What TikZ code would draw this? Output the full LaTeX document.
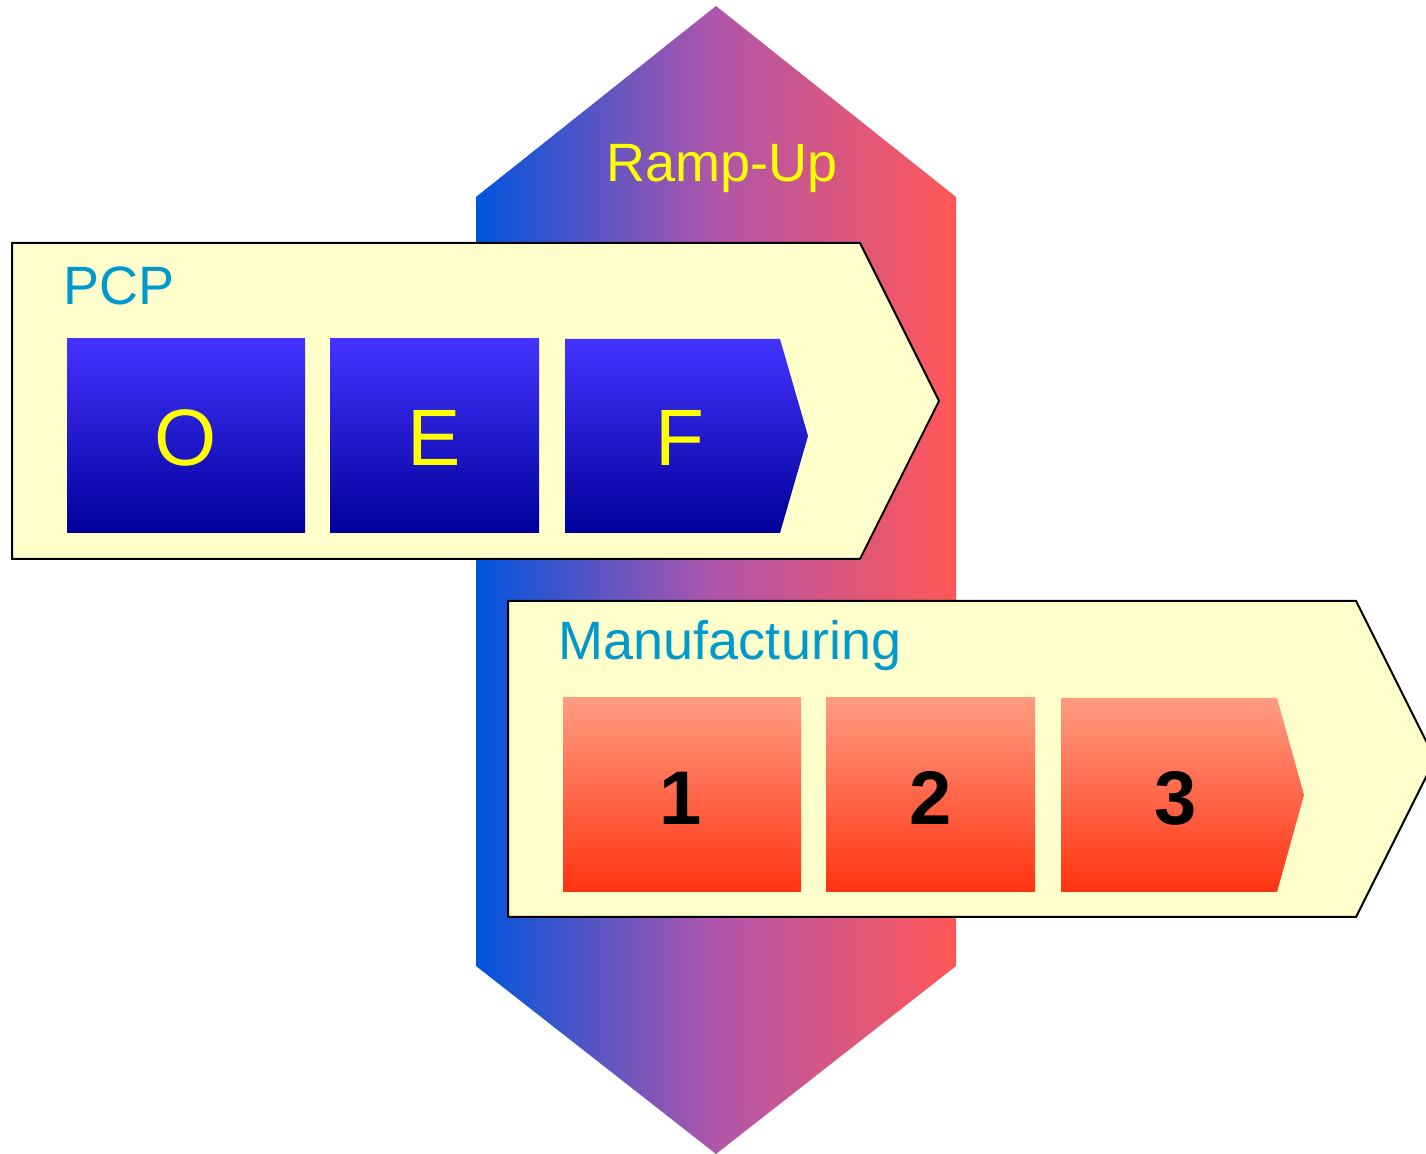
\documentclass[tikz,border=0pt]{standalone}
\usepackage{fontspec}
\setmainfont{Liberation Sans}
\definecolor{hexL}{RGB}{0,85,221}
\definecolor{hexM}{RGB}{176,86,170}
\definecolor{hexR}{RGB}{255,87,87}
\definecolor{chev}{RGB}{255,255,204}
\definecolor{blueT}{RGB}{68,51,255}
\definecolor{blueB}{RGB}{0,0,153}
\definecolor{redT}{RGB}{255,156,130}
\definecolor{redB}{RGB}{255,51,17}
\definecolor{lbl}{RGB}{0,153,204}
\definecolor{yel}{RGB}{255,255,0}
\tikzset{
  chevron/.style={fill=chev,draw=black,line width=1pt,line join=miter},
  bluebox/.style={top color=blueT,bottom color=blueB},
  redbox/.style={top color=redT,bottom color=redB},
  title/.style={anchor=base,inner sep=0pt,text=lbl,font=\fontsize{27}{32}\selectfont},
  ramp/.style={anchor=base,inner sep=0pt,text=yel,font=\fontsize{27}{32}\selectfont},
  bluetext/.style={anchor=base,inner sep=0pt,text=yel,font=\fontsize{40}{46}\selectfont},
  redtext/.style={anchor=base,inner sep=0pt,text=black,font=\bfseries\fontsize{38}{44}\selectfont}
}
\begin{document}
\begin{tikzpicture}[x=0.5pt,y=-0.5pt]
\useasboundingbox (0,0) rectangle (1426,1154);
% ramp-up hexagon
\shade[left color=hexL,right color=hexR,middle color=hexM]
  (716,6) -- (956,197) -- (956,966) -- (716,1154) -- (476,966) -- (476,197) -- cycle;
\node[ramp] (ramp) at (722,182) {Ramp-Up};
% PCP chevron
\draw[chevron] (12,243) -- (860,243) -- (939,401) -- (860,559) -- (12,559) -- cycle;
\node[title] (pcp) at (119,305) {PCP};
\shade[bluebox] (67,339) rectangle (305,533);
\shade[bluebox] (330,339) rectangle (539,533);
\shade[bluebox] (565,339) -- (780,339) -- (808,436) -- (780,533) -- (565,533) -- cycle;
\node[bluetext] (o) at (186,466) {O};
\node[bluetext] (e) at (434,466) {E};
\node[bluetext] (f) at (680,466) {F};
% Manufacturing chevron
\draw[chevron] (508,601) -- (1356,601) -- (1435,759) -- (1356,917) -- (508,917) -- cycle;
\node[title] (manu) at (730,660) {Manufacturing};
\shade[redbox] (563,698) rectangle (801,892);
\shade[redbox] (826,698) rectangle (1035,892);
\shade[redbox] (1061,698) -- (1277,698) -- (1304,795) -- (1277,892) -- (1061,892) -- cycle;
\node[redtext] (one) at (681,825) {1};
\node[redtext] (two) at (931,825) {2};
\node[redtext] (three) at (1176,825) {3};
\end{tikzpicture}
\end{document}
